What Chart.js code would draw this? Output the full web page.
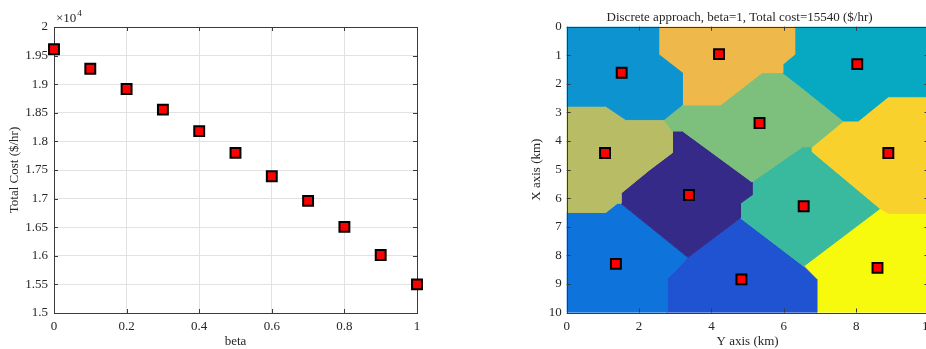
<!DOCTYPE html>
<html>
<head>
<meta charset="utf-8">
<script src="https://cdn.jsdelivr.net/npm/chart.js@4.4.1/dist/chart.umd.min.js"></script>
<style>
  html, body { margin: 0; padding: 0; background: #fff; }
  #wrap { position: relative; width: 926px; height: 349px; overflow: hidden; }
  #costChart { position: absolute; left: 0; top: 0; }
  #mapChart { position: absolute; left: 528px; top: 0; }
</style>
</head>
<body>
<div id="wrap">
  <canvas id="costChart" width="450" height="349"></canvas>
  <canvas id="mapChart" width="422" height="349"></canvas>
</div>
<script>
// --- Left panel: total cost vs beta ---
const betaValues = [0, 0.1, 0.2, 0.3, 0.4, 0.5, 0.6, 0.7, 0.8, 0.9, 1];
const totalCost = [19610, 19270, 18915, 18555, 18180, 17800, 17390, 16960, 16505, 16015, 15500];
const costTicks = { min: 15000, max: 20000, step: 500 };
const betaTicks = { min: 0, max: 1, step: 0.2 };

// --- Right panel: service areas (km), [Y axis, X axis] pairs ---
const siteY = [1.52, 4.21, 8.03, 5.33, 1.06, 8.89, 3.38, 6.55, 1.36, 4.83, 8.59];
const siteX = [1.61, 0.96, 1.31, 3.37, 4.42, 4.42, 5.89, 6.28, 8.30, 8.84, 8.44];

const areaTopLeft = [[0, 0], [2.54, 0], [2.54, 0.97], [3.19, 1.61], [3.19, 2.74], [2.69, 3.25], [1.63, 3.25], [1.08, 2.78], [0, 2.78]];
const areaTopMid = [[2.54, 0], [6.30, 0], [6.30, 0.97], [5.97, 1.32], [5.97, 1.61], [5.40, 1.61], [4.25, 2.74], [3.19, 2.74], [3.19, 1.61], [2.54, 0.97]];
const areaTopRight = [[6.30, 0], [10, 0], [10, 2.45], [8.89, 2.45], [8.06, 3.30], [7.65, 3.30], [6.59, 2.22], [5.97, 1.61], [5.97, 1.32], [6.30, 0.97]];
const areaCentre = [[3.19, 2.74], [4.25, 2.74], [5.40, 1.61], [5.97, 1.61], [6.59, 2.22], [7.65, 3.30], [6.79, 4.20], [6.52, 4.20], [5.12, 5.43], [3.20, 3.65], [2.92, 3.65], [2.69, 3.25]];
const areaMidLeft = [[0, 2.78], [1.08, 2.78], [1.63, 3.25], [2.69, 3.25], [2.92, 3.65], [2.92, 4.41], [2.28, 5.02], [1.50, 5.83], [1.50, 6.18], [1.40, 6.18], [1.08, 6.50], [0, 6.50]];
const areaMidRight = [[10, 2.45], [8.89, 2.45], [8.06, 3.30], [7.65, 3.30], [6.79, 4.20], [6.79, 4.38], [8.66, 6.36], [8.89, 6.53], [10, 6.53]];
const areaInner = [[2.92, 3.65], [3.20, 3.65], [5.12, 5.43], [5.12, 5.89], [4.80, 6.18], [4.80, 6.69], [3.35, 8.07], [1.50, 6.18], [1.50, 5.83], [2.28, 5.02], [2.92, 4.41]];
const areaLowMid = [[4.80, 6.69], [4.80, 6.18], [5.12, 5.89], [5.12, 5.43], [6.52, 4.20], [6.79, 4.20], [6.79, 4.38], [8.66, 6.36], [6.55, 8.38]];
const areaBottomLeft = [[0, 6.50], [1.08, 6.50], [1.40, 6.18], [1.50, 6.18], [3.35, 8.07], [2.78, 8.81], [2.78, 10], [0, 10]];
const areaBottomMid = [[2.78, 10], [2.78, 8.81], [3.35, 8.07], [4.80, 6.69], [6.55, 8.38], [6.91, 8.84], [6.91, 10]];
const areaBottomRight = [[6.91, 10], [6.91, 8.84], [6.55, 8.38], [8.66, 6.36], [8.89, 6.53], [10, 6.53], [10, 10]];

const areaShapes = [areaTopLeft, areaTopMid, areaTopRight, areaCentre, areaMidLeft, areaMidRight,
                    areaInner, areaLowMid, areaBottomLeft, areaBottomMid, areaBottomRight];
const areaColors = ['#0e93d1', '#efb84a', '#07a9c2', '#7dbf7c', '#b8bd65', '#f8d12d',
                    '#352a87', '#39b99e', '#0e74dc', '#1f53d2', '#f8fa0e'];

const serif = "'Liberation Serif', 'DejaVu Serif', serif";
const textColor = '#262626';

// box + inward tick marks, MATLAB style; drawn just before the marker dataset (index 0)
const boxPlugin = {
    id: 'box',
    beforeDatasetDraw(chart, args) {
        if (args.index !== 0) return;
        const { ctx, chartArea: a, scales } = chart;
        ctx.save();
        ctx.strokeStyle = '#3a3a3a';
        ctx.lineWidth = 1;
        ctx.strokeRect(Math.round(a.left) + 0.5, Math.round(a.top) + 0.5,
                       Math.round(a.right - a.left), Math.round(a.bottom - a.top));
        ctx.beginPath();
        scales.x.ticks.forEach(t => {
            const p = Math.round(scales.x.getPixelForValue(t.value)) + 0.5;
            ctx.moveTo(p, a.bottom); ctx.lineTo(p, a.bottom - 4);
            ctx.moveTo(p, a.top); ctx.lineTo(p, a.top + 4);
        });
        scales.y.ticks.forEach(t => {
            const p = Math.round(scales.y.getPixelForValue(t.value)) + 0.5;
            ctx.moveTo(a.left, p); ctx.lineTo(a.left + 4, p);
            ctx.moveTo(a.right, p); ctx.lineTo(a.right - 4, p);
        });
        ctx.stroke();
        ctx.restore();
    }
};

// "x10^4" exponent above the cost axis
const exponentPlugin = {
    id: 'exponent',
    afterDraw(chart) {
        const { ctx, chartArea: a } = chart;
        ctx.save();
        ctx.fillStyle = textColor;
        ctx.textBaseline = 'alphabetic';
        ctx.font = '13px ' + serif;
        ctx.fillText('\u00d710', a.left + 2, a.top - 5);
        const w = ctx.measureText('\u00d710').width;
        ctx.font = '9px ' + serif;
        ctx.fillText('4', a.left + 2 + w + 1, a.top - 11);
        ctx.restore();
    }
};

// title over the map (slightly left of centre as in the figure)
const mapTitlePlugin = {
    id: 'mapTitle',
    afterDraw(chart) {
        const { ctx, chartArea: a } = chart;
        ctx.save();
        ctx.fillStyle = textColor;
        ctx.font = '13px ' + serif;
        ctx.textAlign = 'center';
        ctx.textBaseline = 'middle';
        ctx.fillText('Discrete approach, beta=1, Total cost=15540 ($/hr)', (a.left + a.right) / 2 - 8, a.top - 9);
        ctx.restore();
    }
};

document.addEventListener('DOMContentLoaded', () => {
    Chart.defaults.font.family = serif;
    Chart.defaults.font.size = 13;
    Chart.defaults.color = textColor;

    // 1. Cost vs beta
    new Chart(document.getElementById('costChart'), {
        type: 'scatter',
        data: {
            datasets: [{
                data: betaValues.map((b, i) => ({ x: b, y: totalCost[i] })),
                pointStyle: 'rect',
                pointRadius: 7,
                backgroundColor: '#ff0000',
                borderColor: '#000000',
                borderWidth: 2,
                clip: false
            }]
        },
        options: {
            responsive: false,
            animation: false,
            events: [],
            devicePixelRatio: 1,
            layout: { padding: { left: 0, right: 33, top: 27, bottom: 0 } },
            plugins: { legend: { display: false }, tooltip: { enabled: false } },
            scales: {
                x: {
                    type: 'linear',
                    min: betaTicks.min, max: betaTicks.max,
                    ticks: { stepSize: betaTicks.step, padding: 6, maxRotation: 0,
                             callback: v => String(Number(v.toFixed(1))) },
                    grid: { color: '#e2e2e2', drawTicks: false },
                    border: { display: false },
                    title: { display: true, text: 'beta', padding: { top: 0, bottom: 0 } },
                    afterFit: s => { s.height = 36; }
                },
                y: {
                    min: costTicks.min, max: costTicks.max,
                    ticks: { stepSize: costTicks.step, padding: 6,
                             callback: v => String(Number((v / 1e4).toFixed(2))) },
                    grid: { color: '#e2e2e2', drawTicks: false },
                    border: { display: false },
                    title: { display: true, text: 'Total Cost ($/hr)', padding: { top: 7, bottom: 0 } },
                    afterFit: s => { s.width = 54; }
                }
            }
        },
        plugins: [boxPlugin, exponentPlugin]
    });

    // 2. Service-area map
    const areaSets = areaShapes.map((pts, i) => ({
        data: pts.concat([pts[0]]).map(p => ({ x: p[0], y: p[1] })),
        showLine: true,
        fill: 'shape',
        tension: 0,
        backgroundColor: areaColors[i],
        borderColor: areaColors[i],
        borderWidth: 1,
        pointRadius: 0,
        order: 2
    }));

    new Chart(document.getElementById('mapChart'), {
        type: 'scatter',
        data: {
            datasets: [{
                data: siteY.map((y, i) => ({ x: y, y: siteX[i] })),
                pointStyle: 'rect',
                pointRadius: 7,
                backgroundColor: '#ff0000',
                borderColor: '#000000',
                borderWidth: 2,
                clip: false,
                order: 0
            }].concat(areaSets)
        },
        options: {
            responsive: false,
            animation: false,
            events: [],
            devicePixelRatio: 1,
            layout: { padding: { left: 0, right: 21.5, top: 26.7, bottom: 0 } },
            plugins: { legend: { display: false }, tooltip: { enabled: false } },
            scales: {
                x: {
                    min: 0, max: 10,
                    ticks: { stepSize: 2, padding: 6, maxRotation: 0 },
                    grid: { display: false, drawTicks: false },
                    border: { display: false },
                    title: { display: true, text: 'Y axis (km)', padding: { top: 0, bottom: 0 } },
                    afterFit: s => { s.height = 36.5; }
                },
                y: {
                    min: 0, max: 10,
                    reverse: true,
                    ticks: { stepSize: 1, padding: 5 },
                    grid: { display: false, drawTicks: false },
                    border: { display: false },
                    title: { display: true, text: 'X axis (km)', padding: { top: 1, bottom: 0 } },
                    afterFit: s => { s.width = 38.7; }
                }
            }
        },
        plugins: [boxPlugin, mapTitlePlugin]
    });
});
</script>
</body>
</html>
